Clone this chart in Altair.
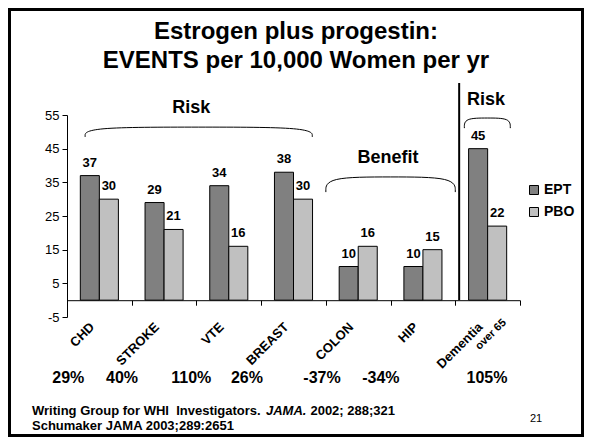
import altair as alt
import pandas as pd

# ---------------- data ----------------
categories = ["CHD", "STROKE", "VTE", "BREAST", "COLON", "HIP", "Dementia over 65"]
label_line1 = ["CHD", "STROKE", "VTE", "BREAST", "COLON", "HIP", "Dementia"]
label_line2 = ["", "", "", "", "", "", "over 65"]
series = ["EPT", "PBO"]
ept = [37, 29, 34, 38, 10, 10, 45]
pbo = [30, 21, 16, 30, 16, 15, 22]
pct_change = ["29%", "40%", "110%", "26%", "-37%", "-34%", "105%"]
y_ticks = [-5, 5, 15, 25, 35, 45, 55]
colors = ["#808080", "#C0C0C0"]

title_lines = ["Estrogen plus progestin:", "EVENTS per 10,000 Women per yr"]
group_labels = ["Risk", "Benefit", "Risk"]
foot1 = ["Writing Group for WHI\u00a0 Investigators.", "JAMA.", "2002; 288;321"]
foot2 = "Schumaker JAMA 2003;289:2651"
slide_no = "21"

# ---------------- layout (pixels / axis units) ----------------
W, H = 453, 202
FONT = "Liberation Sans"
pct_x = [0.02, 0.85, 1.92, 2.78, 3.94, 4.85, 6.49]          # label positions in category units
group_pos = [(1.92, 57.1), (4.96, 42.1), (6.475, 59.5)]
braces = [(0.28, 3.79, 48.5, 51.4), (4.0, 6.0, 32.1, 36.6), (6.14, 6.85, 51.1, 54.1)]
sep_x, sep_top = 6.06, 64.5

bars = pd.DataFrame(
    [{"category": c, "series": "EPT", "value": v} for c, v in zip(categories, ept)]
    + [{"category": c, "series": "PBO", "value": v} for c, v in zip(categories, pbo)]
)
cats = pd.DataFrame({"category": categories, "l1": label_line1, "l2": label_line2})
pcts = pd.DataFrame({"u": pct_x, "t": pct_change})
groups = pd.DataFrame({"u": [p[0] for p in group_pos], "v": [p[1] for p in group_pos], "t": group_labels})

brace_rows = []
for b, (x0, x1, ye, yt) in enumerate(braces):
    mid = (x0 + x1) / 2
    for i, (u, v) in enumerate([(x0, ye), (x0, yt), (mid, yt), (x1, yt), (x1, ye)]):
        brace_rows.append({"b": b, "i": i, "u": u, "v": v})
brace_df = pd.DataFrame(brace_rows)
sep_df = pd.DataFrame({"u": [sep_x], "v": [0], "v2": [sep_top]})

yscale = alt.Scale(domain=[-5, 55], nice=False, zero=False)
uscale = alt.Scale(domain=[0, 7], nice=False, zero=False)
xscale = alt.Scale(domain=categories, paddingInner=0, paddingOuter=0)

x_axis = alt.Axis(title=None, labels=False, domainColor="black", tickColor="black",
                  tickSize=5, tickBand="extent", offset=-16.8)
y_axis = alt.Axis(title=None, values=y_ticks, grid=False, domainColor="black",
                  tickColor="black", tickSize=5, labelFont=FONT, labelFontSize=13,
                  labelColor="black", labelPadding=3,
                  labelExpr="datum.value < 0 ? '-' + abs(datum.value) : '' + datum.value")

xoff = alt.XOffset("series:N", sort=series, scale=alt.Scale(paddingInner=0, paddingOuter=0.7))

bar_layer = alt.Chart(bars).mark_bar(stroke="black", strokeWidth=1, opacity=1).encode(
    x=alt.X("category:N", sort=categories, scale=xscale, axis=x_axis),
    xOffset=xoff,
    y=alt.Y("value:Q", scale=yscale, axis=y_axis),
    y2=alt.datum(0),
    color=alt.Color("series:N", sort=series, scale=alt.Scale(domain=series, range=colors),
                    legend=alt.Legend(title=None, orient="none", legendX=460, legendY=68,
                                      symbolType="square", symbolSize=81,
                                      symbolStrokeColor="black", symbolStrokeWidth=1,
                                      symbolOpacity=1, labelFont=FONT, labelFontSize=14,
                                      labelFontWeight="bold", labelColor="black",
                                      rowPadding=8, labelOffset=3, padding=0)),
)

bar_text = alt.Chart(bars).mark_text(font=FONT, fontSize=13, fontWeight="bold",
                                     baseline="alphabetic", dy=-9, color="black").encode(
    x=alt.X("category:N", sort=categories, scale=xscale, axis=None),
    xOffset=xoff,
    y=alt.Y("value:Q", scale=yscale, axis=None),
    text="value:Q",
)

cat_text1 = alt.Chart(cats).mark_text(font=FONT, fontSize=13, fontWeight="bold", angle=315,
                                      align="right", baseline="middle", color="black").encode(
    x=alt.X("category:N", sort=categories, scale=xscale, axis=None),
    xOffset=alt.value(-7),
    y=alt.value(210),
    text="l1:N",
)
cat_text2 = alt.Chart(cats).mark_text(font=FONT, fontSize=11, fontWeight="bold", angle=315,
                                      align="right", baseline="middle", color="black").encode(
    x=alt.X("category:N", sort=categories, scale=xscale, axis=None),
    xOffset=alt.value(17),
    y=alt.value(206),
    text="l2:N",
)

pct_text = alt.Chart(pcts).mark_text(font=FONT, fontSize=16, fontWeight="bold",
                                     baseline="middle", color="black").encode(
    x=alt.X("u:Q", scale=uscale, axis=None),
    y=alt.value(263),
    text="t:N",
)

group_text = alt.Chart(groups).mark_text(font=FONT, fontSize=18, fontWeight="bold",
                                         baseline="middle", color="black").encode(
    x=alt.X("u:Q", scale=uscale, axis=None),
    y=alt.Y("v:Q", scale=yscale, axis=None),
    text="t:N",
)

brace_layer = alt.Chart(brace_df).mark_line(interpolate="basis", color="black", strokeWidth=1).encode(
    x=alt.X("u:Q", scale=uscale, axis=None),
    y=alt.Y("v:Q", scale=yscale, axis=None),
    detail="b:N",
    order="i:Q",
)

sep_layer = alt.Chart(sep_df).mark_rule(color="black", strokeWidth=2).encode(
    x=alt.X("u:Q", scale=uscale, axis=None),
    y=alt.Y("v:Q", scale=yscale, axis=None),
    y2="v2:Q",
)

def txt(t, x, y, size, weight="bold", style="normal", align="left", baseline="alphabetic"):
    return alt.Chart(pd.DataFrame({"t": [t]})).mark_text(
        font=FONT, fontSize=size, fontWeight=weight, fontStyle=style, align=align,
        baseline=baseline, color="black").encode(x=alt.value(x), y=alt.value(y), text="t:N")

title1 = txt(title_lines[0], 229, -76, 24, align="center")
title2 = txt(title_lines[1], 229, -47, 24, align="center")
f1a = txt(foot1[0], -35, 300, 13)
f1b = txt(foot1[1], 199, 300, 13, style="italic")
f1c = txt(foot1[2], 328, 300, 13, align="right")
f2 = txt(foot2, -35, 315, 13)
num = txt(slide_no, 463, 307, 11, weight="normal")

frame = alt.Chart(pd.DataFrame({"a": [0]})).mark_rect(filled=False, stroke="black", strokeWidth=3).encode(
    x=alt.value(-57.5), x2=alt.value(515.5), y=alt.value(-105.5), y2=alt.value(320.5)
)

chart = alt.layer(
    bar_layer, bar_text, cat_text1, cat_text2, pct_text, group_text, brace_layer, sep_layer,
    title1, title2, f1a, f1b, f1c, f2, num, frame
).resolve_scale(x="independent", y="independent").properties(
    width=W, height=H,
    autosize=alt.AutoSizeParams(type="none"),
    padding={"left": 59, "top": 107, "right": 64, "bottom": 120},
    background="white",
).configure_view(stroke=None)

chart.save("out.html", embed_options={"renderer": "svg", "actions": False})
